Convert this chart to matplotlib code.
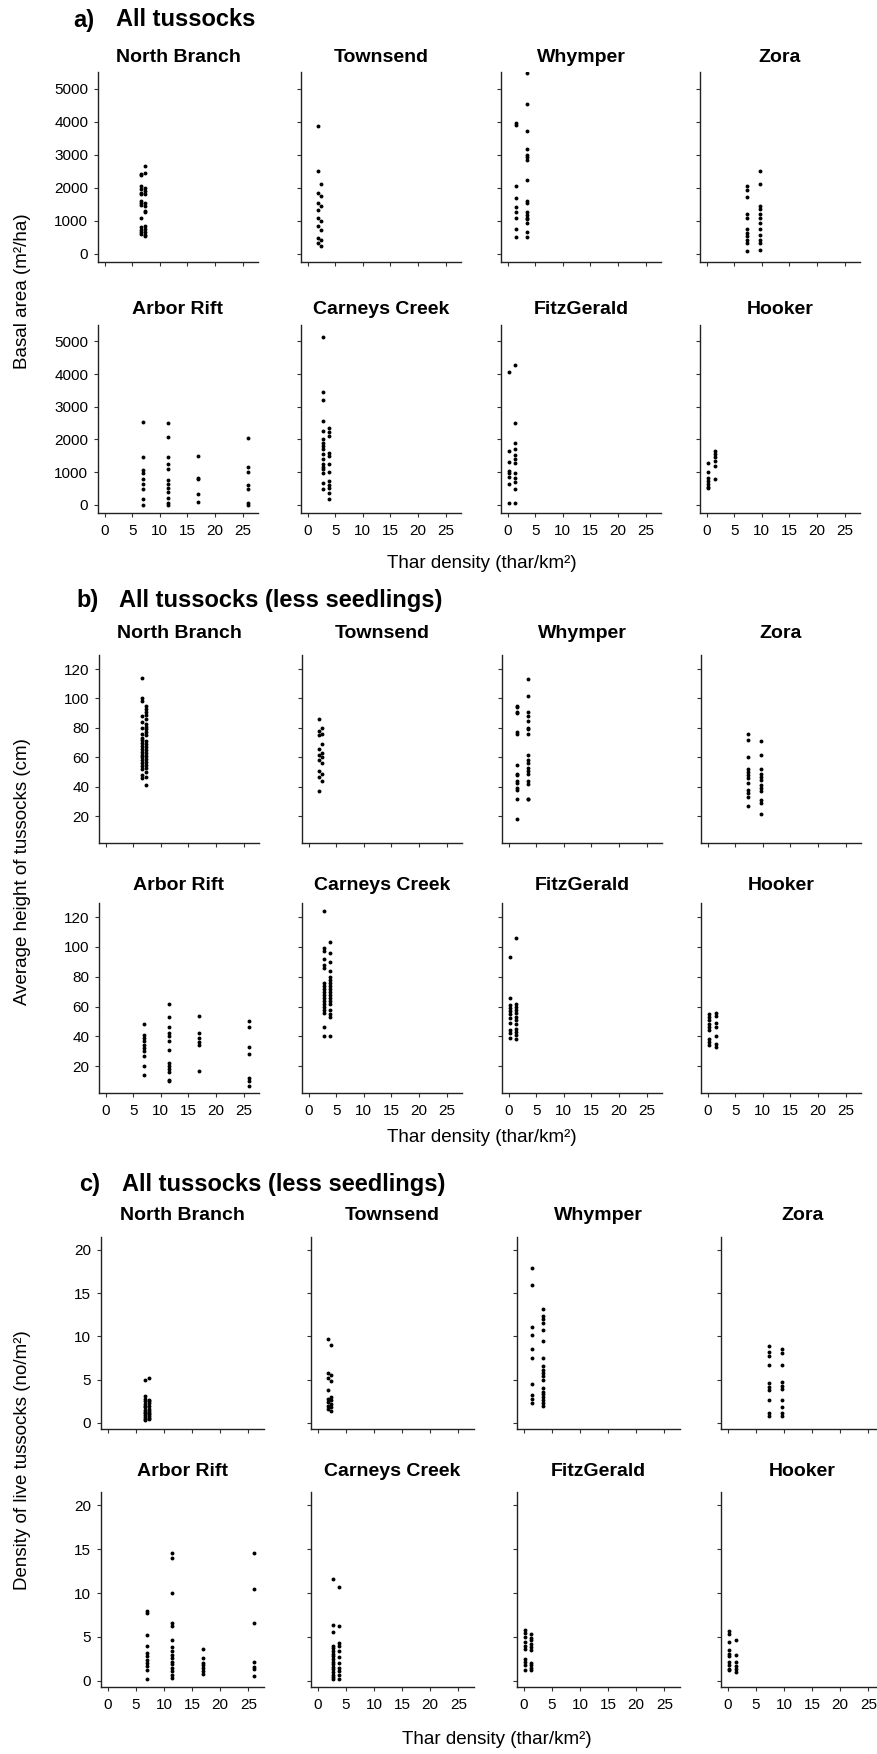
import numpy as np
import matplotlib
matplotlib.use("Agg")
import matplotlib.pyplot as plt

plt.rcParams['font.family'] = ['Liberation Sans', 'DejaVu Sans']

W, H = 878, 1754

# ---------------- categories ----------------
TOP_SITES = ["North Branch", "Townsend", "Whymper", "Zora"]
BOTTOM_SITES = ["Arbor Rift", "Carneys Creek", "FitzGerald", "Hooker"]
THAR_TICKS = [0, 5, 10, 15, 20, 25]
BASAL_TICKS = [0, 1000, 2000, 3000, 4000, 5000]
HEIGHT_TICKS = [20, 40, 60, 80, 100, 120]
DENSITY_TICKS = [0, 5, 10, 15, 20]

# thar density (thar/km2) of each survey group per site
thar_north_branch = [6.6, 7.4]
thar_townsend = [1.8, 2.4]
thar_whymper = [1.5, 3.5]
thar_zora = [7.3, 9.7]
thar_arbor_rift = [7.0, 11.5, 17.0, 26.0]
thar_carneys_creek = [2.7, 3.8]
thar_fitzgerald = [0.2, 1.3]
thar_hooker = [0.3, 1.5]

# ---------------- a) basal area (m2/ha) ----------------
basal_north_branch = [[2420, 2380, 2050, 1950, 1850, 1800, 1600, 1550, 1480, 1080, 800, 720, 650, 600],
                      [2650, 2450, 2000, 1900, 1800, 1550, 1450, 1300, 1250, 850, 750, 650, 580, 530]]
basal_townsend = [[3880, 2500, 1840, 1530, 1330, 1080, 830, 480, 320],
                  [2100, 1740, 1430, 980, 730, 420, 220]]
basal_whymper = [[3950, 3900, 2060, 1684, 1400, 1250, 1092, 755, 510],
                 [5480, 4530, 3724, 3184, 3000, 2930, 2847, 2235, 1592, 1550, 1265, 1180, 1092, 1040, 939, 653, 510]]
basal_zora = [[2060, 1940, 1704, 1194, 1090, 735, 630, 530, 430, 330, 70],
              [2500, 2100, 1450, 1347, 1190, 1090, 918, 760, 582, 430, 330, 122]]
basal_arbor_rift = [[2520, 1475, 1050, 985, 800, 650, 470, 164, 0],
                    [2500, 2060, 1475, 1240, 1086, 760, 630, 520, 390, 215, 60, 0],
                    [1495, 830, 790, 340, 92],
                    [2050, 1170, 1000, 600, 470, 60, 0]]
basal_carneys_creek = [[5130, 3440, 3200, 2570, 2260, 2000, 1900, 1800, 1700, 1550, 1400, 1250, 1150, 1085, 980, 680, 470],
                       [2360, 2240, 2110, 1600, 1500, 1240, 1000, 720, 620, 520, 370, 164]]
basal_fitzgerald = [[4057, 1650, 1310, 1030, 960, 860, 625, 60],
                    [4262, 2500, 1905, 1720, 1516, 1390, 1270, 963, 830, 707, 490, 60]]
basal_hooker = [[1270, 1000, 830, 730, 630, 530, 500],
                [1650, 1550, 1450, 1350, 1200, 800]]

# ---------------- b) average height (cm) ----------------
height_north_branch = [[114, 100, 98, 88, 84, 80, 76, 73, 72, 70, 68, 66, 64, 62, 60, 58, 56, 54, 52, 48, 46],
                       [95, 93, 91, 89, 86, 83, 81, 79, 77, 75, 71, 69, 67, 65, 63, 61, 59, 57, 55, 53, 50, 47, 41]]
height_townsend = [[86, 78, 75, 66, 62, 58, 51, 47, 37],
                   [80, 76, 69, 63, 60, 56, 49, 44]]
height_whymper = [[95, 94, 91, 90, 77, 76, 55, 49, 48, 44, 43, 39, 38, 32, 18],
                  [113, 102, 91, 88, 85, 80, 79, 76, 62, 58, 56, 53, 51, 49, 44, 42, 32, 32]]
height_zora = [[76, 72, 60, 52, 50, 48, 46, 43, 38, 36, 33, 27],
               [71, 62, 52, 49, 47, 45, 41, 39, 37, 31, 29, 22]]
height_arbor_rift = [[48, 41, 39, 37, 34, 32, 30, 27, 20, 14],
                     [62, 53, 46, 42, 40, 37, 31, 22, 20, 18, 16, 11, 10],
                     [54, 42, 39, 36, 34, 17],
                     [50, 46, 33, 28, 12, 10, 7]]
height_carneys_creek = [[124, 99, 97, 92, 88, 86, 76, 74, 72, 70, 68, 66, 64, 62, 60, 58, 56, 46, 40],
                        [103, 96, 90, 84, 80, 78, 76, 74, 72, 70, 68, 66, 64, 62, 58, 55, 53, 40]]
height_fitzgerald = [[93, 66, 61, 59, 57, 55, 52, 49, 44, 42, 39],
                     [106, 62, 60, 58, 56, 53, 51, 48, 45, 43, 41, 38]]
height_hooker = [[55, 53, 51, 48, 46, 44, 38, 36, 34],
                 [56, 54, 49, 46, 40, 35, 33]]

# ---------------- c) density of live tussocks (no/m2) ----------------
density_north_branch = [[5.0, 3.1, 2.8, 2.5, 2.2, 2.0, 1.8, 1.5, 1.3, 1.1, 0.9, 0.7, 0.5, 0.3],
                        [5.2, 2.7, 2.5, 2.3, 2.0, 1.6, 1.4, 1.2, 1.0, 0.8, 0.6, 0.4]]
density_townsend = [[9.7, 5.8, 5.2, 3.8, 2.8, 2.4, 2.0, 1.6],
                    [9.0, 5.6, 4.9, 3.0, 2.6, 2.2, 1.8, 1.4]]
density_whymper = [[17.9, 16.0, 11.1, 10.2, 8.5, 7.5, 4.5, 3.2, 2.8, 2.3],
                   [22.3, 13.2, 12.4, 12.0, 11.5, 10.8, 9.5, 7.5, 6.6, 6.1, 5.8, 5.4, 5.0, 4.0, 3.6, 3.4, 3.0, 2.6, 2.3, 2.0]]
density_zora = [[8.9, 8.2, 7.7, 6.7, 4.6, 4.2, 3.8, 2.7, 1.2, 0.8],
                [8.5, 8.1, 6.7, 4.7, 4.3, 3.9, 2.7, 1.8, 1.2, 0.8]]
density_arbor_rift = [[8.0, 7.7, 5.2, 4.0, 3.2, 2.8, 2.4, 2.0, 1.7, 1.2, 0.2],
                      [14.5, 14.0, 10.0, 6.6, 6.3, 4.6, 3.8, 3.4, 3.0, 2.6, 2.2, 1.9, 1.5, 1.1, 0.7, 0.3],
                      [3.6, 2.6, 2.0, 1.8, 1.5, 1.1, 0.8],
                      [14.5, 10.5, 6.6, 2.2, 1.6, 1.3, 0.5]]
density_carneys_creek = [[11.6, 6.4, 5.6, 4.0, 3.7, 3.4, 3.1, 2.8, 2.5, 2.2, 1.9, 1.6, 1.3, 1.0, 0.7, 0.4, 0.2],
                         [10.7, 6.3, 4.3, 4.0, 3.4, 2.7, 2.0, 1.5, 1.1, 0.7, 0.2]]
density_fitzgerald = [[5.8, 5.4, 5.0, 4.4, 4.0, 3.6, 2.5, 2.2, 1.8, 1.2],
                      [5.3, 4.9, 4.6, 4.2, 3.8, 3.5, 2.0, 1.8, 1.5, 1.2]]
density_hooker = [[5.7, 5.3, 4.4, 3.5, 3.1, 2.8, 2.2, 1.8, 1.4, 1.2],
                  [4.7, 2.9, 2.1, 1.7, 1.3, 1.0]]

THAR = [thar_north_branch, thar_townsend, thar_whymper, thar_zora,
        thar_arbor_rift, thar_carneys_creek, thar_fitzgerald, thar_hooker]
BASAL = [basal_north_branch, basal_townsend, basal_whymper, basal_zora,
         basal_arbor_rift, basal_carneys_creek, basal_fitzgerald, basal_hooker]
HEIGHT = [height_north_branch, height_townsend, height_whymper, height_zora,
          height_arbor_rift, height_carneys_creek, height_fitzgerald, height_hooker]
DENSITY = [density_north_branch, density_townsend, density_whymper, density_zora,
           density_arbor_rift, density_carneys_creek, density_fitzgerald, density_hooker]

# ---------------- layout (pixels) ----------------
PARTS = [
    dict(letter="a)", title="All tussocks", title_xy=(73, 116, 20), data=BASAL,
         rows=[(72, 262), (325, 513)], lefts=[98, 301, 501, 700], width=160,
         ptitle_y=[57, 310], ylim=(-250, 5500), yticks=BASAL_TICKS,
         ylabel="Basal area (m\u00b2/ha)", ylabel_y=291, xlabel_xy=(482, 563)),
    dict(letter="b)", title="All tussocks (less seedlings)", title_xy=(76, 119, 601), data=HEIGHT,
         rows=[(655, 843), (903, 1093)], lefts=[99, 302, 502, 701], width=160,
         ptitle_y=[633, 885], ylim=(2, 129.5), yticks=HEIGHT_TICKS,
         ylabel="Average height of tussocks (cm)", ylabel_y=872, xlabel_xy=(482, 1138)),
    dict(letter="c)", title="All tussocks (less seedlings)", title_xy=(79, 122, 1185), data=DENSITY,
         rows=[(1237, 1429), (1492, 1687)], lefts=[101, 311, 517, 721], width=163,
         ptitle_y=[1215, 1472], ylim=(-0.7, 21.5), yticks=DENSITY_TICKS,
         ylabel="Density of live tussocks (no/m\u00b2)", ylabel_y=1460, xlabel_xy=(497, 1740)),
]

fig = plt.figure(figsize=(W / 100, H / 100), dpi=100)
fig.patch.set_facecolor("white")

def fx(px):
    return px / W

def fy(py):
    return 1 - py / H

for part in PARTS:
    lx, tx, ty = part["title_xy"]
    fig.text(fx(lx), fy(ty), part["letter"], fontsize=17, fontweight="bold", ha="left", va="center")
    fig.text(fx(tx), fy(ty), part["title"], fontsize=17, fontweight="bold", ha="left", va="center")
    for r, (top, bottom) in enumerate(part["rows"]):
        names = TOP_SITES if r == 0 else BOTTOM_SITES
        for c in range(4):
            idx = r * 4 + c
            left = part["lefts"][c]
            w = part["width"]
            ax = fig.add_axes([fx(left), fy(bottom), w / W, (bottom - top) / H])
            for xv, ys in zip(THAR[idx], part["data"][idx]):
                ax.plot(np.full(len(ys), xv), ys, "o", color="black", markersize=2.8,
                        markeredgewidth=0, linestyle="none")
            ax.set_xlim(-1.2, 27.8)
            ax.set_ylim(*part["ylim"])
            ax.set_xticks(THAR_TICKS)
            ax.set_yticks(part["yticks"])
            for s in ["top", "right"]:
                ax.spines[s].set_visible(False)
            for s in ["left", "bottom"]:
                ax.spines[s].set_linewidth(1.0)
                ax.spines[s].set_color("#222222")
            ax.tick_params(axis="both", direction="out", length=3, width=0.8, color="#333333",
                           labelsize=11)
            ax.tick_params(axis="x", pad=5)
            ax.tick_params(axis="y", pad=4)
            if r == 0:
                ax.set_xticklabels([])
            if c != 0:
                ax.set_yticklabels([])
            fig.text(fx(left + w / 2), fy(part["ptitle_y"][r]), names[c], fontsize=14,
                     fontweight="bold", ha="center", va="center")
    xl, yl = part["xlabel_xy"]
    fig.text(fx(xl), fy(yl), "Thar density (thar/km\u00b2)", fontsize=13.5, ha="center", va="center")
    fig.text(fx(23), fy(part["ylabel_y"]), part["ylabel"], fontsize=13.5, rotation=90,
             ha="center", va="center")

fig.savefig("out.png", dpi=100, facecolor="white")
